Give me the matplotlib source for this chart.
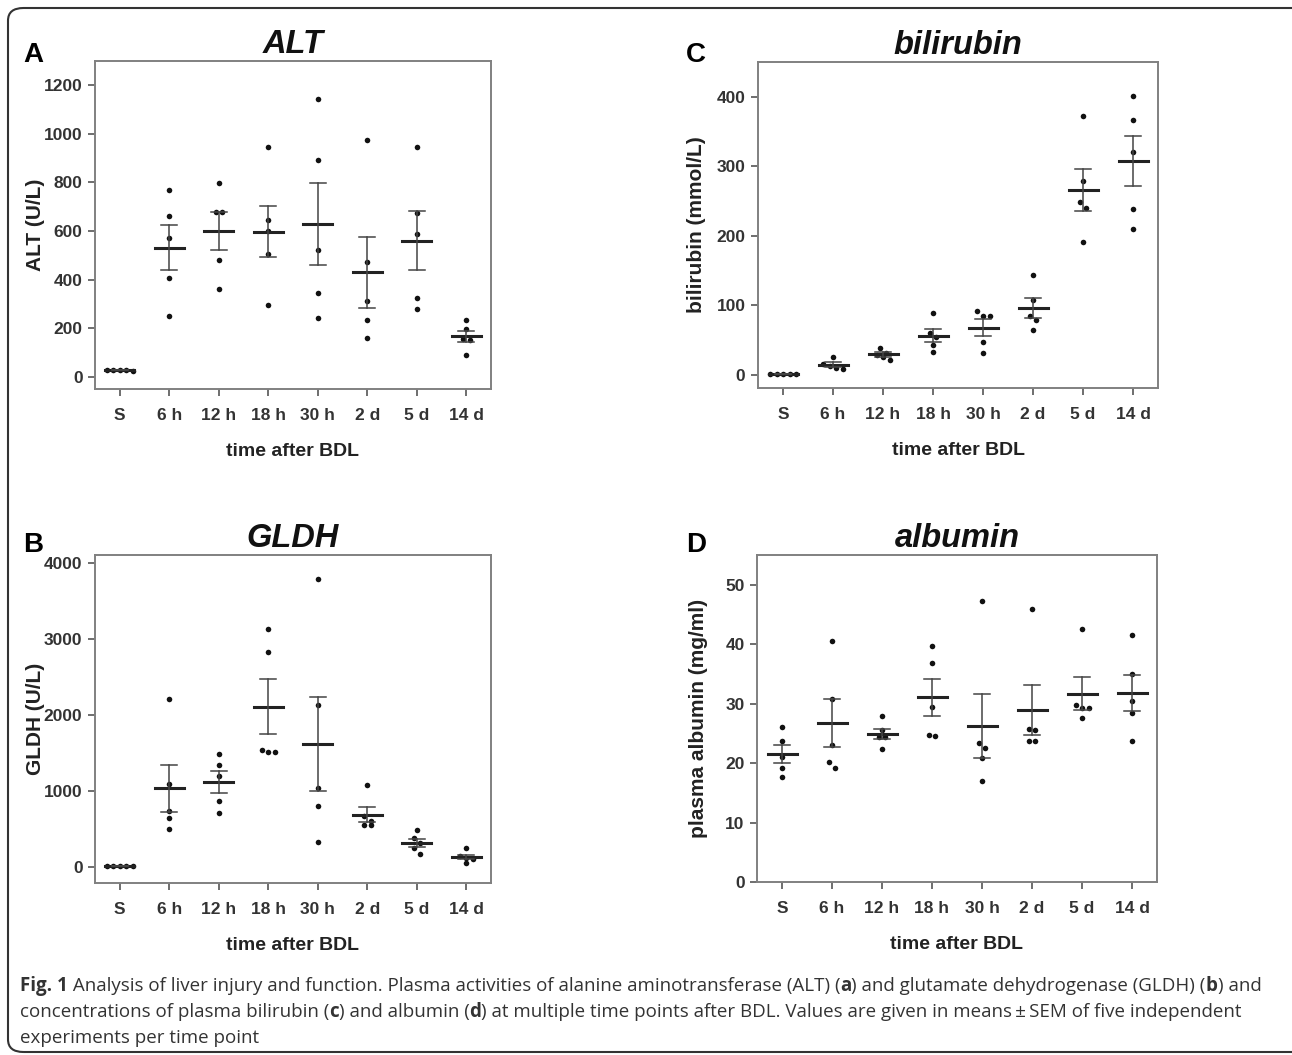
import numpy as np
import matplotlib
matplotlib.use("Agg")
import matplotlib.pyplot as plt
from matplotlib.patches import FancyBboxPatch

plt.rcParams['font.family'] = ['Liberation Sans Narrow', 'Liberation Sans', 'DejaVu Sans']

# categories (time after BDL)
times = ["S", "6 h", "12 h", "18 h", "30 h", "2 d", "5 d", "14 d"]

# five animals per time point
alt = [
    [30, 27, 25, 27, 28],
    [771, 660, 570, 407, 249],
    [797, 678, 678, 481, 361],
    [944, 646, 600, 504, 296],
    [1145, 892, 522, 345, 241],
    [975, 473, 313, 235, 158],
    [944, 674, 586, 323, 279],
    [235, 198, 155, 153, 91],
]
gldh = [
    [8, 6, 5, 6, 7],
    [2205, 1090, 726, 640, 500],
    [1479, 1335, 1195, 862, 709],
    [3129, 2823, 1540, 1510, 1510],
    [3781, 2127, 1037, 792, 319],
    [1076, 661, 595, 543, 543],
    [477, 376, 311, 245, 166],
    [241, 136, 114, 100, 48],
]
bili = [
    [1, 1, 1, 1, 1],
    [26, 16, 13, 10, 9],
    [39, 31, 29, 25, 22],
    [89, 60, 55, 43, 33],
    [92, 85, 84, 47, 32],
    [144, 108, 84, 79, 65],
    [373, 279, 249, 240, 191],
    [401, 367, 320, 239, 210],
]
albu = [
    [26.0, 23.7, 21.1, 19.1, 17.7],
    [40.6, 30.8, 23.1, 20.1, 19.1],
    [27.9, 25.5, 24.4, 24.4, 22.4],
    [39.7, 36.9, 29.4, 24.8, 24.5],
    [47.2, 23.4, 22.5, 20.9, 17.0],
    [45.9, 25.8, 25.5, 23.7, 23.7],
    [42.6, 29.7, 29.3, 29.3, 27.6],
    [41.6, 35.0, 30.4, 28.4, 23.7],
]

W, H = 1292, 1055
fig = plt.figure(figsize=(W / 100, H / 100), dpi=100)

DOT_PX = 6.5  # spacing of overlapping dots


def swarm(vals, px_per_unit):
    # spread dots sideways when they would overlap (prism-like)
    v = np.asarray(vals, float)
    order = np.argsort(v)[::-1]
    xs = np.zeros(len(v))
    ypx = v * px_per_unit
    groups = []
    for i in order:
        if groups and abs(ypx[groups[-1][0]] - ypx[i]) < DOT_PX:
            groups[-1].append(i)
        else:
            groups.append([i])
    for g in groups:
        n = len(g)
        for k, i in enumerate(g):
            xs[i] = (k - (n - 1) / 2) * DOT_PX
    return xs


def panel(rect, data, ylim, yticks, ylabel, title, letter, letter_xy, ylab_x):
    ax = fig.add_axes(rect)
    ax.set_xlim(-0.5, 7.5)
    ax.set_ylim(*ylim)
    ax_w = rect[2] * W
    ax_h = rect[3] * H
    px_x = ax_w / 8.0
    px_y = ax_h / (ylim[1] - ylim[0])
    for i, vals in enumerate(data):
        off = swarm(vals, px_y) / px_x
        ax.plot(i + off, vals, 'o', color='#111111', ms=4.0, mec='none', zorder=3)
        m = np.mean(vals)
        se = np.std(vals, ddof=1) / np.sqrt(len(vals))
        ax.plot([i - 0.29, i + 0.29], [m, m], color='#222222', lw=2.2, zorder=4)
        ax.plot([i, i], [m - se, m + se], color='#444444', lw=1.1, zorder=4)
        ax.plot([i - 0.16, i + 0.16], [m + se, m + se], color='#444444', lw=1.1, zorder=4)
        ax.plot([i - 0.16, i + 0.16], [m - se, m - se], color='#444444', lw=1.1, zorder=4)
    ax.set_xticks(range(len(times)))
    ax.set_xticklabels(times)
    ax.set_yticks(yticks)
    for s in ax.spines.values():
        s.set_color('#808080')
        s.set_linewidth(1.4)
    ax.tick_params(direction='out', length=5, width=1.2, color='#555555',
                   labelsize=12.5, labelcolor='#333333', pad=4)
    ax.tick_params(axis='x', pad=9)
    for lab in ax.get_xticklabels() + ax.get_yticklabels():
        lab.set_fontweight('bold')
    ax.set_xlabel("time after BDL", fontsize=14, fontweight='bold', color='#222222',
                  labelpad=14, family=['Liberation Sans', 'DejaVu Sans'])
    ax.set_ylabel(ylabel, fontsize=15, fontweight='bold', color='#222222',
                  family=['Liberation Sans', 'DejaVu Sans'])
    ax.yaxis.set_label_coords((ylab_x - rect[0] * W) / ax_w, 0.5)
    ax.set_title(title, fontsize=23.5, fontweight='bold', style='italic', pad=6,
                 family=['Liberation Sans', 'DejaVu Sans'], color='#111111')
    fig.text(letter_xy[0] / W, 1 - letter_xy[1] / H, letter, fontsize=20,
             fontweight='bold', ha='center', va='center',
             family=['Liberation Sans', 'DejaVu Sans'])
    return ax


panel([95 / W, 1 - 389 / H, 396 / W, 328 / H], alt, (-50, 1300),
      [0, 200, 400, 600, 800, 1000, 1200], "ALT (U/L)", "ALT", "A", (33, 55), 45)
panel([758 / W, 1 - 388 / H, 400 / W, 326 / H], bili, (-19, 450),
      [0, 100, 200, 300, 400], "bilirubin (mmol/L)", "bilirubin", "C", (696, 55), 706)
panel([95 / W, 1 - 883 / H, 396 / W, 328 / H], gldh, (-215, 4100),
      [0, 1000, 2000, 3000, 4000], "GLDH (U/L)", "GLDH", "B", (33, 545), 45)
panel([757 / W, 1 - 882 / H, 400 / W, 327 / H], albu, (0, 55),
      [0, 10, 20, 30, 40, 50], "plasma albumin (mg/ml)", "albumin", "D", (696, 545), 708)

# rounded frame round the whole figure
frame = FancyBboxPatch((8 / W, 1 - 1052 / H), 1300 / W, 1044 / H,
                       boxstyle="round,pad=0,rounding_size=0.012",
                       transform=fig.transFigure, fill=False,
                       ec='#333333', lw=1.5, clip_on=False)
fig.patches.append(frame)

# caption with bold pieces
cap_font = ['Open Sans', 'DejaVu Sans']
lines = [
    [("Fig. 1", 'bold'), (" Analysis of liver injury and function. Plasma activities of alanine aminotransferase (ALT) (", 'normal'),
     ("a", 'bold'), (") and glutamate dehydrogenase (GLDH) (", 'normal'), ("b", 'bold'), (") and", 'normal')],
    [("concentrations of plasma bilirubin (", 'normal'), ("c", 'bold'), (") and albumin (", 'normal'),
     ("d", 'bold'), (") at multiple time points after BDL. Values are given in means\u2009\u00b1\u2009SEM of five independent", 'normal')],
    [("experiments per time point", 'normal')],
]
line_y = [986, 1012, 1038]
renderer = fig.canvas.get_renderer()
cap_size = 13.5
for parts, yy in zip(lines, line_y):
    x = 20
    for txt, wt in parts:
        t = fig.text(x / W, 1 - yy / H, txt, fontsize=cap_size, fontweight=wt,
                     family=cap_font, color='#333333', va='center', ha='left')
        bb = t.get_window_extent(renderer)
        x += bb.width

fig.savefig("out.png", dpi=100)
